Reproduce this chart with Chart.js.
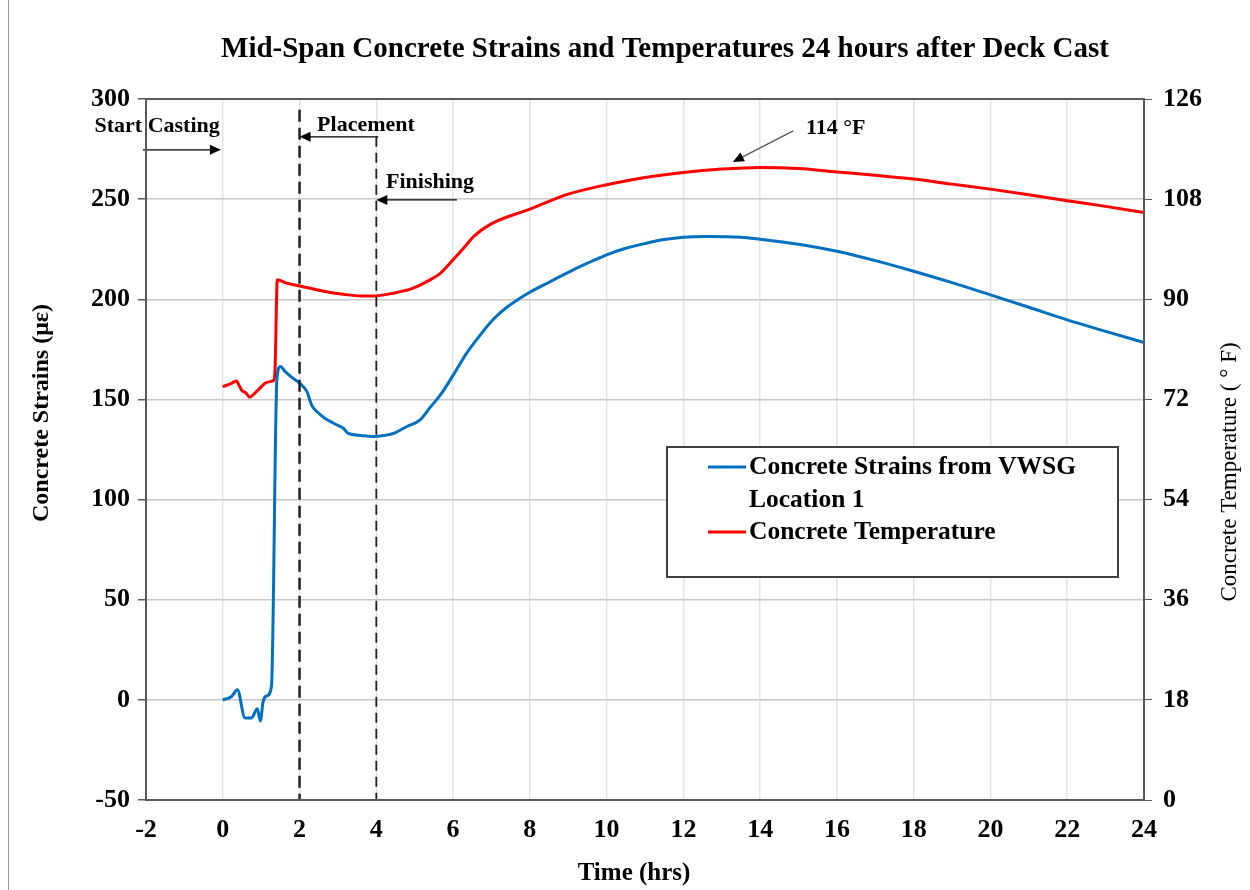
<!DOCTYPE html>
<html>
<head>
<meta charset="utf-8">
<title>Mid-Span Concrete Strains and Temperatures</title>
<script src="https://cdn.jsdelivr.net/npm/chart.js@4.4.1/dist/chart.umd.min.js"></script>
<style>
  html, body { margin: 0; padding: 0; background: #fff; }
  #wrap { width: 1250px; height: 890px; }
</style>
</head>
<body>
<div id="wrap"><canvas id="deckChart" width="1250" height="890"></canvas></div>
<script>
// VWSG strain readings (micro-strain) against hours after casting began
const strainHours = [0, 0.23, 0.38, 0.58, 0.75, 0.9, 0.98, 1.05, 1.15, 1.27, 1.41, 1.5, 1.62, 1.8, 2.01, 2.19, 2.32, 2.45,
  2.66, 2.9, 3.14, 3.27, 3.6, 3.92, 4.2, 4.44, 4.8, 5.14, 5.4, 5.66, 6.0, 6.35, 6.7, 7.05, 7.4, 7.74, 8, 8.5, 9.13,
  9.5, 10, 10.5, 11.04, 11.5, 12, 12.6, 13.5, 14, 15, 16, 17, 18, 19, 20, 21, 22, 23, 24];
const strainValues = [0, 1.7, 5, -9, -9, -4.5, -10.5, -1, 2, 7, 160, 166.5, 164, 161, 158, 154, 147, 144,
  140.6, 138, 135.6, 133, 132, 131.5, 132, 133, 136.5, 139.8, 146, 152, 162, 173, 182, 190, 196, 200.5, 203.5, 208.5, 214.7,
  218, 222.2, 225.5, 228, 229.8, 231, 231.3, 231, 230, 227.5, 224, 219.3, 214, 208.3, 202.2, 196, 189.7, 184, 178.4];

// Concrete temperature (deg F)
const tempHours = [0, 0.2, 0.36, 0.42, 0.5, 0.6, 0.7, 0.83, 0.95, 1.1, 1.23, 1.32, 1.36, 1.42, 1.66, 2.0, 2.6, 3.14,
  3.6, 3.92, 4.44, 4.96, 5.48, 5.66, 6.0, 6.3, 6.54, 6.98, 8, 9, 10, 11, 12, 13, 14, 15, 16, 17, 18, 19, 20, 21, 22, 23, 24];
const tempValues = [74.3, 74.8, 75.3, 74.6, 73.6, 73.2, 72.4, 73.1, 73.9, 74.9, 75.2, 75.4, 77, 93.5, 92.9, 92.4, 91.5, 90.9,
  90.6, 90.6, 91.1, 92.0, 93.8, 94.6, 97.1, 99.4, 101.3, 103.5, 106.2, 108.9, 110.6, 111.9, 112.8, 113.4, 113.7, 113.5,
  112.9, 112.3, 111.6, 110.7, 109.8, 108.8, 107.7, 106.7, 105.6];

const seriesNames = ['Concrete Strains from VWSG Location 1', 'Concrete Temperature'];
const seriesColors = ['#0070C0', '#FF0000'];
const timeTicks = [-2, 0, 2, 4, 6, 8, 10, 12, 14, 16, 18, 20, 22, 24];

// phase markers (hours) and callouts, placed in time / strain units
const phaseLines = [
  { t: 2, top: 294.6, width: 2.5, dash: [12, 6] },
  { t: 4, top: 281.1, width: 1.8, dash: [10, 6] }
];
const callouts = [
  { text: 'Start Casting', t: -1.71, s: 286.5, from: [-2.08, 274.6], to: [-0.05, 274.6], stroke: '#000' },
  { text: 'Placement', t: 3.73, s: 287.1, from: [4.05, 281.1], to: [2.0, 281.1], stroke: '#000' },
  { text: 'Finishing', t: 5.40, s: 258.6, from: [6.1, 249.6], to: [4.0, 249.6], stroke: '#000' },
  { text: '114 °F', t: 15.97, s: 285.6, from: [14.86, 284.1], to: [13.29, 268.6], stroke: '#555' }
];

const serif = "'Liberation Serif', 'Times New Roman', serif";

function arrow(ctx, x1, y1, x2, y2, color) {
  const ang = Math.atan2(y2 - y1, x2 - x1);
  const len = 11, half = 5;
  ctx.save();
  ctx.strokeStyle = color;
  ctx.lineWidth = 1.2;
  ctx.beginPath();
  ctx.moveTo(x1, y1);
  ctx.lineTo(x2 - Math.cos(ang) * len * 0.6, y2 - Math.sin(ang) * len * 0.6);
  ctx.stroke();
  ctx.fillStyle = '#000';
  ctx.beginPath();
  ctx.moveTo(x2, y2);
  ctx.lineTo(x2 - Math.cos(ang) * len - Math.sin(ang) * half, y2 - Math.sin(ang) * len + Math.cos(ang) * half);
  ctx.lineTo(x2 - Math.cos(ang) * len + Math.sin(ang) * half, y2 - Math.sin(ang) * len - Math.cos(ang) * half);
  ctx.closePath();
  ctx.fill();
  ctx.restore();
}

function rotatedText(ctx, text, x, y, font) {
  ctx.save();
  ctx.translate(x, y);
  ctx.rotate(-Math.PI / 2);
  ctx.font = font;
  ctx.fillStyle = '#000';
  ctx.textAlign = 'center';
  ctx.textBaseline = 'middle';
  ctx.fillText(text, 0, 0);
  ctx.restore();
}

const deckNotes = {
  id: 'deckNotes',
  beforeDraw(chart) {
    const { ctx, width, height } = chart;
    ctx.save();
    ctx.fillStyle = '#fff';
    ctx.fillRect(0, 0, width, height);
    ctx.strokeStyle = '#9a9a9a';
    ctx.lineWidth = 1;
    ctx.beginPath();
    ctx.moveTo(8.5, 0);
    ctx.lineTo(8.5, height);
    ctx.stroke();
    ctx.restore();
  },
  afterDatasetsDraw(chart) {
    const { ctx, chartArea, scales: { x, y } } = chart;
    ctx.save();
    phaseLines.forEach(p => {
      ctx.strokeStyle = '#222';
      ctx.lineWidth = p.width;
      ctx.setLineDash(p.dash);
      ctx.beginPath();
      ctx.moveTo(x.getPixelForValue(p.t), y.getPixelForValue(p.top));
      ctx.lineTo(x.getPixelForValue(p.t), chartArea.bottom);
      ctx.stroke();
    });
    ctx.setLineDash([]);
    callouts.forEach(c => {
      ctx.font = 'bold 22px ' + serif;
      ctx.fillStyle = '#000';
      ctx.textAlign = 'center';
      ctx.textBaseline = 'middle';
      ctx.fillText(c.text, x.getPixelForValue(c.t), y.getPixelForValue(c.s));
      arrow(ctx, x.getPixelForValue(c.from[0]), y.getPixelForValue(c.from[1]),
        x.getPixelForValue(c.to[0]), y.getPixelForValue(c.to[1]), c.stroke);
    });
    ctx.restore();
  },
  afterDraw(chart) {
    const { ctx, chartArea: a } = chart;
    ctx.save();
    // plot frame
    ctx.strokeStyle = '#595959';
    ctx.lineWidth = 2;
    ctx.strokeRect(a.left, a.top, a.right - a.left, a.bottom - a.top);

    // legend box
    const bx = 667, by = 447, bw = 451, bh = 130;
    ctx.fillStyle = '#fff';
    ctx.fillRect(bx, by, bw, bh);
    ctx.strokeStyle = '#404040';
    ctx.lineWidth = 2;
    ctx.strokeRect(bx, by, bw, bh);
    ctx.font = 'bold 25.5px ' + serif;
    ctx.fillStyle = '#000';
    ctx.textAlign = 'left';
    ctx.textBaseline = 'middle';
    const rows = [
      { color: seriesColors[0], lines: ['Concrete Strains from VWSG', 'Location 1'], y: 467 },
      { color: seriesColors[1], lines: ['Concrete Temperature'], y: 532 }
    ];
    rows.forEach(r => {
      ctx.strokeStyle = r.color;
      ctx.lineWidth = 3;
      ctx.beginPath();
      ctx.moveTo(708, r.y);
      ctx.lineTo(746, r.y);
      ctx.stroke();
      r.lines.forEach((txt, i) => ctx.fillText(txt, 749, r.y + i * 33));
    });

    // heading and axis titles
    ctx.font = 'bold 29px ' + serif;
    ctx.textAlign = 'center';
    ctx.fillText('Mid-Span Concrete Strains and Temperatures 24 hours after Deck Cast', 665, 50);
    ctx.font = 'bold 25px ' + serif;
    ctx.fillText('Time (hrs)', 634, 874);
    ctx.restore();
    rotatedText(ctx, 'Concrete Strains (με)', 42, 413, 'bold 24px ' + serif);
    rotatedText(ctx, 'Concrete Temperature ( ° F)', 1230, 472, '23px ' + serif);
  }
};

const tickFont = { family: serif, size: 26, weight: 'bold' };

new Chart(document.getElementById('deckChart'), {
  type: 'line',
  data: {
    datasets: [
      {
        label: seriesNames[0],
        data: strainHours.map((t, i) => ({ x: t, y: strainValues[i] })),
        borderColor: seriesColors[0],
        borderWidth: 3,
        pointRadius: 0,
        cubicInterpolationMode: 'monotone',
        yAxisID: 'y'
      },
      {
        label: seriesNames[1],
        data: tempHours.map((t, i) => ({ x: t, y: tempValues[i] })),
        borderColor: seriesColors[1],
        borderWidth: 3,
        pointRadius: 0,
        cubicInterpolationMode: 'monotone',
        yAxisID: 'y1'
      }
    ]
  },
  options: {
    responsive: false,
    animation: false,
    layout: { padding: { top: 99, left: 0, right: 0, bottom: 0 } },
    plugins: {
      legend: { display: false },
      title: { display: false },
      tooltip: { enabled: false }
    },
    scales: {
      x: {
        type: 'linear',
        min: -2,
        max: 24,
        afterFit(scale) { scale.height = 90; },
        afterBuildTicks(scale) {
          scale.ticks = timeTicks.map(v => ({ value: v }));
        },
        ticks: { font: tickFont, color: '#000', padding: 15, maxRotation: 0 },
        grid: { color: '#e3e3e3', lineWidth: 1.5, drawTicks: false },
        border: { color: '#595959', width: 2 }
      },
      y: {
        position: 'left',
        min: -50,
        max: 300,
        afterFit(scale) { scale.width = 146; },
        ticks: { stepSize: 50, font: tickFont, color: '#000', padding: 8 },
        grid: { color: '#c8c8c8', lineWidth: 1.5, tickLength: 8, tickColor: '#595959' },
        border: { color: '#595959', width: 2 }
      },
      y1: {
        position: 'right',
        min: 0,
        max: 126,
        afterFit(scale) { scale.width = 106; },
        ticks: { stepSize: 18, font: tickFont, color: '#000', padding: 11 },
        grid: { drawOnChartArea: false, tickLength: 8, tickColor: '#595959' },
        border: { color: '#595959', width: 2 }
      }
    }
  },
  plugins: [deckNotes]
});
</script>
</body>
</html>
